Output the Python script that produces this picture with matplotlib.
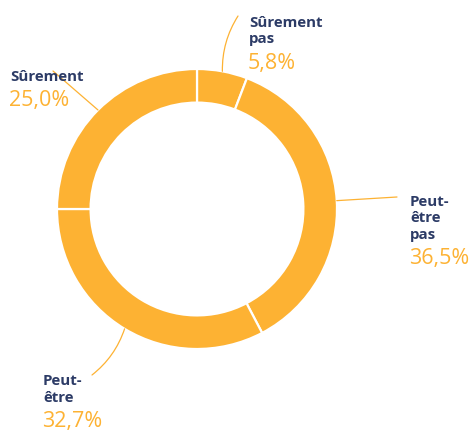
import matplotlib
matplotlib.use("Agg")
import matplotlib.pyplot as plt
import numpy as np

plt.rcParams['font.family'] = ['Open Sans', 'DejaVu Sans']

# data (clockwise from 12 o'clock)
labels = [["Sûrement", "pas"], ["Peut-", "être", "pas"], ["Peut-", "être"], ["Sûrement"]]
values = [5.8, 36.5, 32.7, 25.0]
pct_text = ["5,8%", "36,5%", "32,7%", "25,0%"]

orange = "#FDB233"
navy = "#2C3B66"

# label layout in pixel coords (left x, first baseline y), leader end points, curvature
label_pos = [(249, 27), (410, 206), (43, 385), (10, 81)]
line_end = [(238, 16), (397, 197), (92, 375), (53, 71)]
line_rad = [0.15, 0.0, 0.15, 0.0]

W, H = 476, 430
cx, cy, r = 197, 209, 140
ring = 0.24

fig = plt.figure(figsize=(W / 100, H / 100), dpi=100)
ax = fig.add_axes([0, 0, 1, 1])

# y axis is flipped later, so start at -90 and go "counterclock" -> clockwise on screen
wedges, _ = ax.pie(values, colors=[orange] * len(values), startangle=-90,
                   counterclock=True, radius=r, center=(cx, cy),
                   wedgeprops=dict(width=r * ring, edgecolor="white", linewidth=1.6))

ax.set_xlim(0, W)
ax.set_ylim(H, 0)
ax.axis("off")

for i, w in enumerate(wedges):
    mid = np.deg2rad((w.theta1 + w.theta2) / 2)
    px, py = cx + r * np.cos(mid), cy + r * np.sin(mid)
    ax.annotate("", xy=(px, py), xytext=line_end[i],
                arrowprops=dict(arrowstyle="-", color=orange, lw=0.9,
                                shrinkA=0, shrinkB=0,
                                connectionstyle=f"arc3,rad={line_rad[i]}"))
    x0, y0 = label_pos[i]
    y = y0
    for line in labels[i]:
        ax.text(x0, y, line, fontsize=10.8, fontweight="bold", color=navy,
                ha="left", va="baseline")
        y += 16.5
    ax.text(x0 - 1, y + 8.5, pct_text[i], fontsize=15.5, color=orange,
            ha="left", va="baseline")

fig.savefig("out.png", dpi=100)
